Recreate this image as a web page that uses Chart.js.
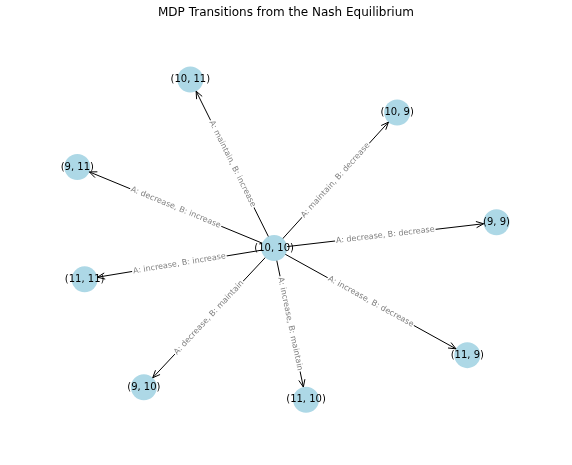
<!DOCTYPE html>
<html>
<head>
<meta charset="utf-8">
<script src="https://cdn.jsdelivr.net/npm/chart.js@4"></script>
<style>
  html, body { margin: 0; padding: 0; background: #fff; }
  #wrap { position: relative; width: 572px; height: 465px; }
  #title { position: absolute; top: 5px; left: 0; width: 572px; text-align: center;
           font: 12px "DejaVu Sans", sans-serif; color: #000; }
</style>
</head>
<body>
<div id="wrap">
  <canvas id="c" width="572" height="465"></canvas>
  <div id="title">MDP Transitions from the Nash Equilibrium</div>
</div>
<script>
// uzly grafu (pozice z layoutu)
const NODES = ["(10, 10)", "(10, 11)", "(10, 9)", "(9, 11)", "(9, 9)", "(11, 11)", "(11, 9)", "(9, 10)", "(11, 10)"];
const NODE_X = [273, 181, 408, 57, 517, 65, 485, 130, 308];
const NODE_Y = [250, 61, 98, 159, 221, 285, 370, 406, 420];
// hrany ze středu (index 0) do ostatních
const EDGE_TO = [1, 2, 3, 4, 5, 6, 7, 8];
const EDGE_LABELS = [
  "A: maintain, B: increase", "A: maintain, B: decrease",
  "A: decrease, B: increase", "A: decrease, B: decrease",
  "A: increase, B: increase", "A: increase, B: decrease",
  "A: decrease, B: maintain", "A: increase, B: maintain",
];

const R = 13;
const FONT = '"DejaVu Sans", sans-serif';

const edgeSets = EDGE_TO.map(t => ({
  type: "scatter", showLine: true, order: 2,
  data: [{ x: NODE_X[0], y: NODE_Y[0] }, { x: NODE_X[t], y: NODE_Y[t] }],
  borderColor: "#000", borderWidth: 1, pointRadius: 0,
}));

const graphPlugin = {
  id: "graph",
  afterDatasetsDraw(chart) {
    const ctx = chart.ctx, sx = chart.scales.x, sy = chart.scales.y;
    ctx.save();
    // šipky a popisky hran
    EDGE_TO.forEach((t, i) => {
      const x0 = sx.getPixelForValue(NODE_X[0]), y0 = sy.getPixelForValue(NODE_Y[0]);
      const x1 = sx.getPixelForValue(NODE_X[t]), y1 = sy.getPixelForValue(NODE_Y[t]);
      const a = Math.atan2(y1 - y0, x1 - x0);
      const ex = x1 - Math.cos(a) * R, ey = y1 - Math.sin(a) * R;
      ctx.strokeStyle = "#000"; ctx.lineWidth = 1;
      ctx.beginPath();
      ctx.moveTo(ex - Math.cos(a - 0.4) * 8, ey - Math.sin(a - 0.4) * 8);
      ctx.lineTo(ex, ey);
      ctx.lineTo(ex - Math.cos(a + 0.4) * 8, ey - Math.sin(a + 0.4) * 8);
      ctx.stroke();

      let rot = a;
      if (rot > Math.PI / 2) rot -= Math.PI;
      if (rot < -Math.PI / 2) rot += Math.PI;
      ctx.save();
      ctx.translate((x0 + x1) / 2, (y0 + y1) / 2);
      ctx.rotate(rot);
      ctx.font = "8px " + FONT;
      const w = ctx.measureText(EDGE_LABELS[i]).width;
      ctx.fillStyle = "#fff";
      ctx.fillRect(-w / 2 - 1, -5, w + 2, 10);
      ctx.fillStyle = "#808080";
      ctx.textAlign = "center"; ctx.textBaseline = "middle";
      ctx.fillText(EDGE_LABELS[i], 0, 0);
      ctx.restore();
    });
    // popisky uzlů
    ctx.font = "10px " + FONT;
    ctx.fillStyle = "#000"; ctx.textAlign = "center"; ctx.textBaseline = "middle";
    NODES.forEach((n, i) => ctx.fillText(n, sx.getPixelForValue(NODE_X[i]), sy.getPixelForValue(NODE_Y[i])));
    ctx.restore();
  },
};

new Chart(document.getElementById("c"), {
  type: "scatter",
  data: {
    datasets: [
      ...edgeSets,
      { type: "scatter", order: 1,
        data: NODES.map((_, i) => ({ x: NODE_X[i], y: NODE_Y[i] })),
        backgroundColor: "#add8e6", borderWidth: 0, pointRadius: R, pointHoverRadius: R },
    ],
  },
  options: {
    responsive: false, animation: false,
    layout: { padding: 0 },
    plugins: { legend: { display: false }, tooltip: { enabled: false } },
    scales: {
      // chart area je o poloměr bodu menší -> rozsah roztažený
      x: { display: false, min: -13.6, max: 585.6 },
      y: { display: false, min: -13.6, max: 478.6, reverse: true },
    },
  },
  plugins: [graphPlugin],
});
</script>
</body>
</html>
